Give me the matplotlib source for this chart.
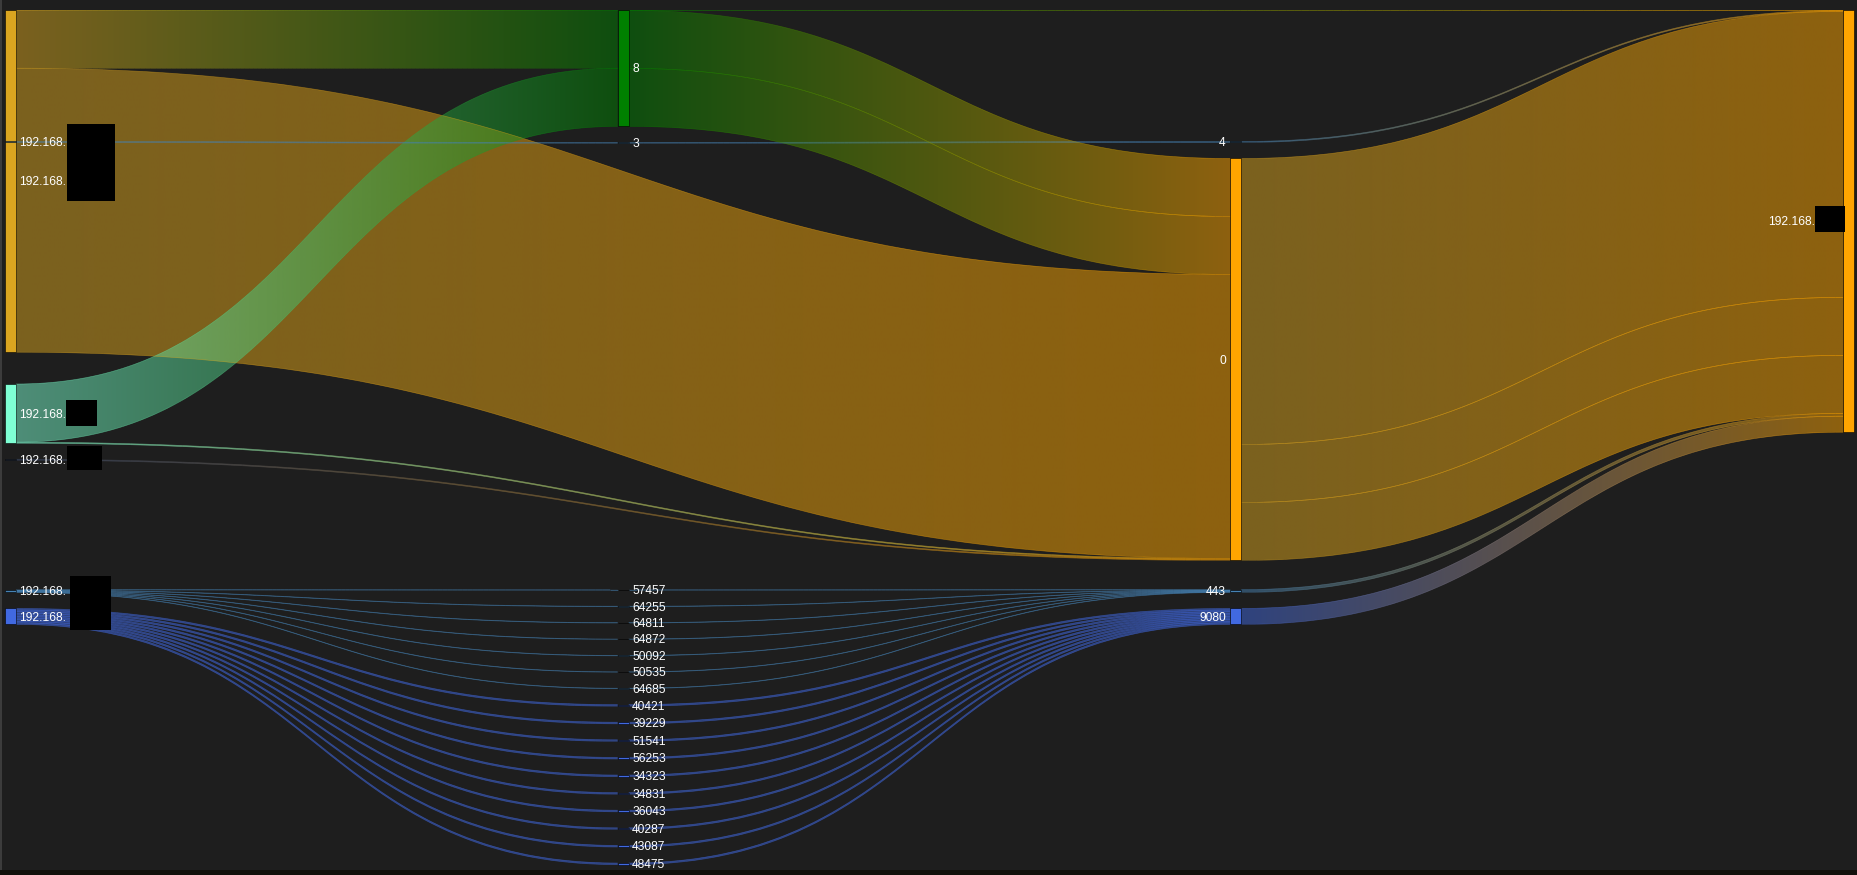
"""Sankey of connections: source IP -> source port -> destination port -> destination IP."""
import matplotlib
matplotlib.use("Agg")
import matplotlib.pyplot as plt
import numpy as np
from matplotlib.collections import LineCollection
from matplotlib.colors import to_rgba
from matplotlib.patches import PathPatch, Rectangle
from matplotlib.path import Path

# ---- data ---------------------------------------------------------------
# node order: source IPs (0-5), source ports (6-24), destination ports (25-28), destination IP (29)
src_ip_labels = ["192.168.", "192.168.", "192.168.", "192.168.", "192.168.", "192.168."]
src_port_labels = ["8", "3",
                   "57457", "64255", "64811", "64872", "50092", "50535", "64685",
                   "40421", "39229", "51541", "56253", "34323", "34831", "36043",
                   "40287", "43087", "48475"]
dst_port_labels = ["4", "0", "443", "9080"]
dst_ip_labels = ["192.168."]

# flows that are not part of the two port fans
main_source = [0, 0, 2, 2, 3, 1, 7, 25, 6, 6, 6, 26, 26, 26, 27, 28]
main_target = [6, 26, 6, 26, 26, 7, 25, 29, 29, 26, 26, 29, 29, 29, 29, 29]
main_value = [291, 1420, 291, 5, 5, 5, 5, 5, 2, 290, 290, 1430, 290, 290, 14, 80]

# port fans: one source IP -> many ephemeral ports -> one service port
fan_443_ports = [8, 9, 10, 11, 12, 13, 14]
fan_443_values = [2, 2, 2, 2, 2, 2, 2]
fan_9080_ports = [15, 16, 17, 18, 19, 20, 21, 22, 23, 24]
fan_9080_values = [8, 8, 8, 8, 8, 8, 8, 8, 8, 8]

# ---- style / layout -----------------------------------------------------
BG = "#1e1e1e"
node_colors = (["goldenrod", "steelblue", "aquamarine", "#3b4a6b", "steelblue", "royalblue"]
               + ["green", "steelblue"] + ["steelblue"] * 7 + ["royalblue"] * 10
               + ["steelblue", "orange", "steelblue", "royalblue"]
               + ["orange"])
link_start_override = {26: "goldenrod"}
# top of some nodes as a fraction of the plot height, the rest are stacked
node_top_frac = {0: 0.0, 1: 0.1529, 2: 0.4349, 4: 0.6740, 6: 0.0, 8: 0.6742,
                 25: 0.1529, 27: 0.6740, 29: 0.0}
# width (px) of the redacted tail of a right-aligned label
hidden_tail = {29: 23}

W, H = 1857, 875
plot_left, plot_right = 5, 1854
plot_top, plot_bottom = 10, 870
node_thickness = 11
node_pad = 16
px_per_unit = 0.2
label_gap = 3.5

labels = src_ip_labels + src_port_labels + dst_port_labels + dst_ip_labels
columns = ([0] * len(src_ip_labels) + [1] * len(src_port_labels)
           + [2] * len(dst_port_labels) + [3] * len(dst_ip_labels))

link_source = list(main_source)
link_target = list(main_target)
link_value = list(main_value)
for p, v in zip(fan_443_ports, fan_443_values):
    link_source += [4, p]
    link_target += [p, 27]
    link_value += [v, v]
for p, v in zip(fan_9080_ports, fan_9080_values):
    link_source += [5, p]
    link_target += [p, 28]
    link_value += [v, v]

n = len(labels)
n_links = len(link_value)
val_in = np.zeros(n)
val_out = np.zeros(n)
for s, t, v in zip(link_source, link_target, link_value):
    val_out[s] += v
    val_in[t] += v
node_h = np.maximum(val_in, val_out) * px_per_unit

step = (plot_right - plot_left - node_thickness) / 3
node_x = np.array([plot_left + c * step for c in columns])
node_top = np.zeros(n)
for c in range(4):
    prev_bottom = None
    for i in range(n):
        if columns[i] != c:
            continue
        if i in node_top_frac:
            top = plot_top + node_top_frac[i] * (plot_bottom - plot_top)
        elif prev_bottom is None:
            top = plot_top
        else:
            top = prev_bottom + node_pad
        node_top[i] = top
        prev_bottom = top + node_h[i]
node_cy = node_top + node_h / 2

# link offsets inside the nodes
out_off = np.zeros(n_links)
in_off = np.zeros(n_links)
for i in range(n):
    outs = sorted([k for k in range(n_links) if link_source[k] == i],
                  key=lambda k: (node_cy[link_target[k]], k))
    y = node_top[i]
    for k in outs:
        out_off[k] = y
        y += link_value[k] * px_per_unit
    ins = sorted([k for k in range(n_links) if link_target[k] == i],
                 key=lambda k: (node_cy[link_source[k]], k))
    y = node_top[i]
    for k in ins:
        in_off[k] = y
        y += link_value[k] * px_per_unit

# ---- draw ---------------------------------------------------------------
fig = plt.figure(figsize=(W / 100, H / 100), dpi=100, facecolor=BG)
ax = fig.add_axes([0, 0, 1, 1])
ax.set_facecolor(BG)
ax.axis("off")


def bez(p0, p1, p2, p3, t):
    t = t[:, None]
    return ((1 - t) ** 3 * p0 + 3 * (1 - t) ** 2 * t * p1
            + 3 * (1 - t) * t ** 2 * p2 + t ** 3 * p3)


ts = np.linspace(0, 1, 120)
for k in range(n_links):
    s, t = link_source[k], link_target[k]
    h = link_value[k] * px_per_unit
    x0 = node_x[s] + node_thickness
    x1 = node_x[t]
    xm = (x0 + x1) / 2
    ya0, yb0 = out_off[k], out_off[k] + h
    ya1, yb1 = in_off[k], in_off[k] + h
    cs = np.array(to_rgba(link_start_override.get(s, node_colors[s])))
    ct = np.array(to_rgba(node_colors[t]))

    verts = [(x0, ya0), (xm, ya0), (xm, ya1), (x1, ya1),
             (x1, yb1), (xm, yb1), (xm, yb0), (x0, yb0), (x0, ya0)]
    codes = [Path.MOVETO, Path.CURVE4, Path.CURVE4, Path.CURVE4,
             Path.LINETO, Path.CURVE4, Path.CURVE4, Path.CURVE4, Path.CLOSEPOLY]
    band = PathPatch(Path(verts, codes), transform=ax.transData)

    f = np.linspace(0, 1, 256)[:, None]
    grad = np.zeros((1, 256, 4))
    grad[0, :, :3] = (1 - f) * cs[:3] + f * ct[:3]
    grad[0, :, 3] = 0.5
    ymin, ymax = min(ya0, ya1), max(yb0, yb1)
    im = ax.imshow(grad, extent=(x0, x1, ymax, ymin), aspect="auto",
                   interpolation="bilinear", zorder=1)
    im.set_clip_path(band)

    # thin edges of each band
    for ya, yb in ((ya0, ya1), (yb0, yb1)):
        pts = bez(np.array([x0, ya]), np.array([xm, ya]),
                  np.array([xm, yb]), np.array([x1, yb]), ts)
        segs = np.stack([pts[:-1], pts[1:]], axis=1)
        fx = ((pts[:-1, 0] + pts[1:, 0]) / 2 - x0) / (x1 - x0)
        cols = np.zeros((len(fx), 4))
        cols[:, :3] = (1 - fx)[:, None] * cs[:3] + fx[:, None] * ct[:3]
        cols[:, 3] = 0.5
        ax.add_collection(LineCollection(segs, colors=cols, linewidths=0.45, zorder=2))

fs = 12 * 0.72
for i in range(n):
    ax.add_patch(Rectangle((node_x[i], node_top[i]), node_thickness, node_h[i],
                           facecolor=node_colors[i], edgecolor="black",
                           linewidth=0.4, zorder=3))
    y_text = node_cy[i] + 0.35 * 12
    if columns[i] < 2:
        ax.text(node_x[i] + node_thickness + label_gap, y_text, labels[i], color="white",
                fontsize=fs, family="Liberation Sans", ha="left", va="baseline", zorder=5)
    else:
        x_text = node_x[i] - label_gap - 1 - hidden_tail.get(i, 0)
        ax.text(x_text, y_text, labels[i], color="white",
                fontsize=fs, family="Liberation Sans", ha="right", va="baseline", zorder=5)

# redaction boxes over the IP addresses
redactions = [(67, 124, 48, 77), (66, 400, 31, 26), (67, 446, 35, 24),
              (70, 576, 41, 54), (1815, 206, 30, 26)]
for bx, by, bw, bh in redactions:
    ax.add_patch(Rectangle((bx, by), bw, bh, facecolor="black", edgecolor="none", zorder=6))

# window frame
ax.add_patch(Rectangle((0, 0), 2, plot_bottom, facecolor="#3c3c3c", edgecolor="none", zorder=7))
ax.add_patch(Rectangle((0, plot_bottom), W, H - plot_bottom, facecolor="#12110c",
                       edgecolor="none", zorder=7))

ax.set_xlim(0, W)
ax.set_ylim(H, 0)
fig.savefig("out.png", dpi=100, facecolor=BG)
